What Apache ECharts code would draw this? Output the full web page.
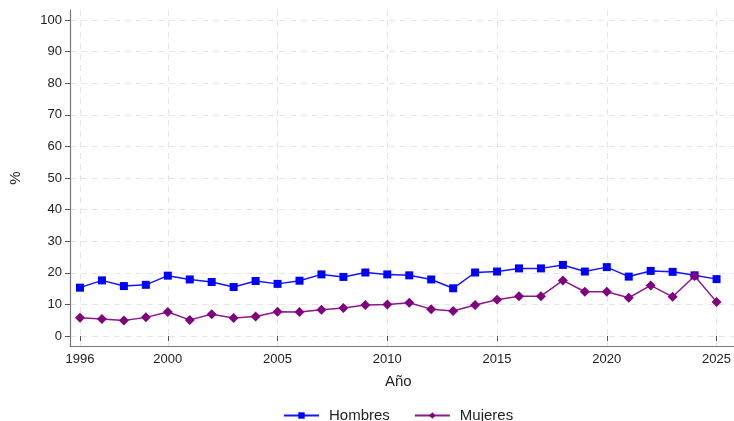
<!DOCTYPE html>
<html><head><meta charset="utf-8">
<script src="https://cdn.jsdelivr.net/npm/echarts@6/dist/echarts.min.js"></script>
<style>html,body{margin:0;padding:0;background:#fff}#c{width:734px;height:421px}</style>
</head><body><div id="c"></div>
<script>
const years = [1996,1997,1998,1999,2000,2001,2002,2003,2004,2005,2006,2007,2008,2009,2010,2011,2012,2013,2014,2015,2016,2017,2018,2019,2020,2021,2022,2023,2024,2025];
const hombres = [15.3,17.6,15.8,16.2,19.1,17.9,17.1,15.5,17.4,16.5,17.5,19.5,18.7,20.1,19.5,19.2,17.9,15.1,20.1,20.4,21.4,21.4,22.5,20.4,21.8,18.8,20.6,20.3,19.2,18.0];
const mujeres = [5.8,5.4,4.9,5.9,7.6,5.1,6.9,5.7,6.2,7.7,7.6,8.3,8.9,9.8,10.0,10.5,8.5,7.9,9.8,11.5,12.6,12.6,17.6,14.0,14.0,12.1,16.0,12.4,19.0,10.8];
const yTicks = [0,10,20,30,40,50,60,70,80,90,100];
const xLabelYears = [1996,2000,2005,2010,2015,2020,2025];

const FONT = 'Liberation Sans';
const chart = echarts.init(document.getElementById('c'));
const showYear = (i, v) => xLabelYears.indexOf(Number(v)) >= 0;
const gridLine = {show:true, lineStyle:{color:'#e6e6e6', type:[6,5], width:1}};
chart.setOption({
  animation:false,
  textStyle:{fontFamily:FONT},
  grid:[
    {left:80, right:10, top:10, bottom:75},
    {left:70, right:0, top:20, bottom:85},
    {left:70, right:0, top:10, bottom:75}
  ],
  xAxis:[
    {gridIndex:0, type:'category', data:years.map(String), boundaryGap:false,
     axisLine:{show:false},
     axisTick:{show:true, interval:showYear, length:5, lineStyle:{color:'#555'}},
     axisLabel:{show:true, interval:showYear, color:'#222', fontSize:13, margin:7, fontFamily:FONT},
     splitLine:Object.assign({interval:showYear}, gridLine),
     name:'Año', nameLocation:'middle', nameGap:28, nameTextStyle:{fontSize:15, color:'#222', fontFamily:FONT}},
    {gridIndex:1, type:'value', min:0, max:1, show:false},
    {gridIndex:2, type:'value', min:0, max:1, axisLine:{show:true, lineStyle:{color:'#777', width:1.2}},
     axisTick:{show:false}, axisLabel:{show:false}, splitLine:{show:false}}
  ],
  yAxis:[
    {gridIndex:0, type:'value', min:-3.16, max:103.16, show:false},
    {gridIndex:1, type:'value', min:0, max:100, interval:10,
     axisLine:{show:false}, axisTick:{show:true, length:5, lineStyle:{color:'#555'}},
     axisLabel:{color:'#222', fontSize:13, margin:8, fontFamily:FONT},
     splitLine:gridLine,
     name:'%', nameLocation:'middle', nameGap:47, nameRotate:90, nameTextStyle:{fontSize:15, color:'#222', fontFamily:FONT}},
    {gridIndex:2, type:'value', min:0, max:1, axisLine:{show:true, lineStyle:{color:'#777', width:1.2}},
     axisTick:{show:false}, axisLabel:{show:false}, splitLine:{show:false}}
  ],
  legend:{top:403, left:278, itemWidth:35, itemHeight:8, itemGap:24,
    textStyle:{fontSize:15, color:'#222', fontFamily:FONT, padding:[0,0,0,5]},
    data:['Hombres','Mujeres']},
  series:[
    {name:'Hombres', type:'line', xAxisIndex:0, yAxisIndex:0, data:hombres,
     symbol:'rect', symbolSize:8, color:'#1414ff', lineStyle:{width:1.5, color:'#1414ff'}, itemStyle:{color:'#0000ff'}},
    {name:'Mujeres', type:'line', xAxisIndex:0, yAxisIndex:0, data:mujeres,
     symbol:'diamond', symbolSize:10, color:'#800080', lineStyle:{width:1.5, color:'#8a1a8a'}, itemStyle:{color:'#800080'}}
  ]
});
</script></body></html>
